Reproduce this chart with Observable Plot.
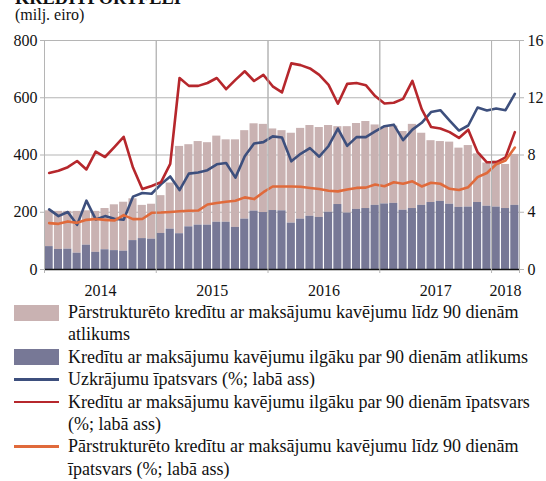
<!DOCTYPE html>
<html>
<head>
<meta charset="utf-8">
<script src="https://cdn.jsdelivr.net/npm/d3@7"></script>
<script src="https://cdn.jsdelivr.net/npm/@observablehq/plot@0.6"></script>
<style>
  html, body { margin: 0; padding: 0; background: #fff; }
  #page { position: relative; width: 546px; height: 481px; overflow: hidden; font-family: "Liberation Serif", "Times New Roman", serif; color: #111; }
  #title { position: absolute; left: 15px; top: -11.5px; font-size: 18.4px; font-weight: bold; line-height: 1; white-space: nowrap; }
  #subtitle { position: absolute; left: 15px; top: 7px; font-size: 16px; line-height: 1; white-space: nowrap; }
  #chart { position: absolute; left: 0; top: 25px; }
  #chart svg text { font-family: "Liberation Serif", "Times New Roman", serif !important; }
  #legend { position: absolute; left: 0; top: 301px; width: 546px; font-size: 18px; line-height: 22.4px; }
  .item { position: relative; padding-left: 68px; white-space: nowrap; }
  .sw { position: absolute; left: 14px; width: 45px; }
  .sw.bar { top: 3.5px; height: 16px; }
  .sw.line { top: 10px; height: 2.5px; }
</style>
</head>
<body>
<div id="page">
  <div id="title">KREDĪTPORTFELI</div>
  <div id="subtitle">(milj. eiro)</div>
  <div id="chart"></div>
  <div id="legend"></div>
</div>
<script>
// Year labels of the category axis
const years = ["2014", "2015", "2016", "2017", "2018"];
// Monthly categories: Jan 2014 – Mar 2018
const months = [];
for (const y of [2014, 2015, 2016, 2017]) for (let m = 1; m <= 12; m++) months.push(`${y}-${String(m).padStart(2, "0")}`);
for (let m = 1; m <= 3; m++) months.push(`2018-${String(m).padStart(2, "0")}`);

// Loans overdue more than 90 days (mln EUR, left axis)
const overdue90 = [80, 70, 71, 57, 85, 60, 69, 66, 64, 101, 108, 106,
  126, 141, 125, 149, 155, 155, 165, 165, 147, 176, 204, 199,
  206, 205, 162, 176, 186, 182, 200, 227, 197, 210, 213, 224,
  229, 231, 207, 213, 224, 234, 238, 228, 217, 218, 234, 221,
  218, 213, 224];
// Restructured loans overdue up to 90 days (mln EUR, left axis, stacked)
const restructured = [125, 133, 132, 146, 120, 143, 144, 160, 171, 146, 116, 122,
  132, 161, 305, 287, 292, 288, 301, 288, 306, 309, 305, 308,
  285, 280, 314, 317, 317, 314, 303, 272, 302, 300, 304, 281,
  268, 270, 275, 294, 252, 216, 209, 217, 207, 215, 170, 151,
  162, 154, 178];
// Provisions ratio (%, right axis)
const provisionsRatio = [4.2, 3.73, 4.02, 3.12, 4.81, 3.5, 3.73, 3.55, 3.48, 5.09, 5.35, 5.29,
  5.95, 6.5, 5.55, 6.7, 6.78, 6.94, 7.35, 7.44, 6.42, 7.91, 8.8, 8.9,
  9.3, 9.22, 7.56, 8.08, 8.48, 7.88, 8.63, 9.85, 8.64, 9.25, 9.25, 9.65,
  10.01, 10.12, 9.04, 9.77, 10.25, 11.0, 11.13, 10.41, 9.71, 10.06, 11.32, 11.11,
  11.25, 11.13, 12.27];
// Share of loans overdue more than 90 days (%, right axis)
const overdue90Share = [6.74, 6.9, 7.15, 7.58, 6.99, 8.24, 7.86, 8.55, 9.27, 7.12, 5.62, 5.84,
  6.09, 7.38, 13.38, 12.83, 12.83, 13.03, 13.38, 12.6, 13.25, 13.85, 13.17, 13.6,
  12.8, 12.37, 14.4, 14.28, 14.05, 13.6, 12.9, 11.58, 12.97, 13.03, 12.88, 12.12,
  11.6, 11.65, 11.92, 13.18, 11.2, 9.96, 9.85, 9.6, 9.19, 9.77, 8.2, 7.49,
  7.49, 7.83, 9.6];
// Share of restructured loans overdue up to 90 days (%, right axis)
const restructuredShare = [3.24, 3.19, 3.36, 3.26, 3.47, 3.53, 3.47, 3.42, 3.8, 3.52, 3.53, 3.96,
  3.98, 4.02, 4.07, 4.11, 4.12, 4.54, 4.65, 4.73, 4.8, 5.04, 4.92, 5.4,
  5.8, 5.8, 5.8, 5.78, 5.7, 5.62, 5.5, 5.46, 5.59, 5.7, 5.72, 5.94,
  5.82, 6.1, 5.99, 6.16, 5.8, 6.06, 5.99, 5.64, 5.55, 5.75, 6.45, 6.74,
  7.35, 7.62, 8.52];

const leftTicks = [0, 200, 400, 600, 800];
const rightFactor = 50; // 800 left == 16 right

const colors = {
  restructured: "#c9b2b2",
  overdue: "#777896",
  provisions: "#3d4f7d",
  overdueShare: "#b6272c",
  restrShare: "#e06a3b"
};

const rows = months.map((m, i) => ({
  i, month: m, year: m.slice(0, 4),
  over: overdue90[i],
  restr: restructured[i],
  prov: provisionsRatio[i],
  ovShare: overdue90Share[i],
  reShare: restructuredShare[i]
}));

const n = months.length;
// year boundaries and year-centre label positions, derived from the month list
const yearStart = years.map(y => months.findIndex(m => m.startsWith(y)));
const yearEnd = years.map(y => months.length - [...months].reverse().findIndex(m => m.startsWith(y)));
const yearBounds = [...yearStart, n];
const yearMid = years.map((y, k) => (yearStart[k] + yearEnd[k]) / 2);
const grid = "#b5b5b5";
const serif = "'Liberation Serif', 'Times New Roman', serif";

const chart = Plot.plot({
  width: 546,
  height: 280,
  marginTop: 15,
  marginBottom: 36,
  marginLeft: 44,
  marginRight: 27,
  x: { domain: [0, n], axis: null },
  y: { domain: [0, 800], axis: null },
  style: { fontFamily: serif, fontSize: "16px", color: "#111", background: "white", overflow: "visible" },
  marks: [
    Plot.ruleY([200, 400, 600, 800], { stroke: grid, strokeWidth: 1 }),
    Plot.ruleX(yearBounds, { stroke: grid, strokeWidth: 1 }),
    Plot.rectY(rows, { x1: d => d.i, x2: d => d.i + 1, y1: "over", y2: d => d.over + d.restr, fill: colors.restructured, insetLeft: 0.6, insetRight: 0.6 }),
    Plot.rectY(rows, { x1: d => d.i, x2: d => d.i + 1, y1: 0, y2: "over", fill: colors.overdue, insetLeft: 0.6, insetRight: 0.6 }),
    Plot.line(rows, { x: d => d.i + 0.5, y: d => d.prov * rightFactor, stroke: colors.provisions, strokeWidth: 2.6 }),
    Plot.line(rows, { x: d => d.i + 0.5, y: d => d.ovShare * rightFactor, stroke: colors.overdueShare, strokeWidth: 2.6 }),
    Plot.line(rows, { x: d => d.i + 0.5, y: d => d.reShare * rightFactor, stroke: colors.restrShare, strokeWidth: 2.6 }),
    Plot.ruleY([0], { stroke: "#111", strokeWidth: 1.6 }),
    Plot.axisY({ anchor: "left", ticks: leftTicks, label: null, tickSize: 4, tickPadding: 3, stroke: grid, fontSize: 16, fontFamily: serif, tickFormat: d => String(d) }),
    Plot.axisY({ anchor: "right", ticks: leftTicks, label: null, tickSize: 4, tickPadding: 4, stroke: grid, fontSize: 16, fontFamily: serif, tickFormat: d => String(d / rightFactor) }),
    Plot.tickX(yearBounds, { x: d => d, y1: 0, y2: 0, stroke: grid, insetBottom: -4 }),
    Plot.text(years, { x: (d, k) => yearMid[k], y: 0, dy: 21, fontSize: 16, fontFamily: serif, fill: "#111" })
  ]
});
document.getElementById("chart").appendChild(chart);

const legendItems = [
  { kind: "bar", color: colors.restructured, lines: ["Pārstrukturēto kredītu ar maksājumu kavējumu līdz 90 dienām", "atlikums"] },
  { kind: "bar", color: colors.overdue, lines: ["Kredītu ar maksājumu kavējumu ilgāku par 90 dienām atlikums"] },
  { kind: "line", color: colors.provisions, lines: ["Uzkrājumu īpatsvars (%; labā ass)"] },
  { kind: "line", color: colors.overdueShare, lines: ["Kredītu ar maksājumu kavējumu ilgāku par 90 dienām īpatsvars", "(%; labā ass)"] },
  { kind: "line", color: colors.restrShare, lines: ["Pārstrukturēto kredītu ar maksājumu kavējumu līdz 90 dienām", "īpatsvars (%; labā ass)"] }
];
const legend = document.getElementById("legend");
for (const it of legendItems) {
  const div = document.createElement("div");
  div.className = "item";
  const sw = document.createElement("div");
  sw.className = "sw " + it.kind;
  sw.style.background = it.color;
  div.appendChild(sw);
  it.lines.forEach((t, k) => {
    if (k > 0) div.appendChild(document.createElement("br"));
    div.appendChild(document.createTextNode(t));
  });
  legend.appendChild(div);
}
</script>
</body>
</html>
